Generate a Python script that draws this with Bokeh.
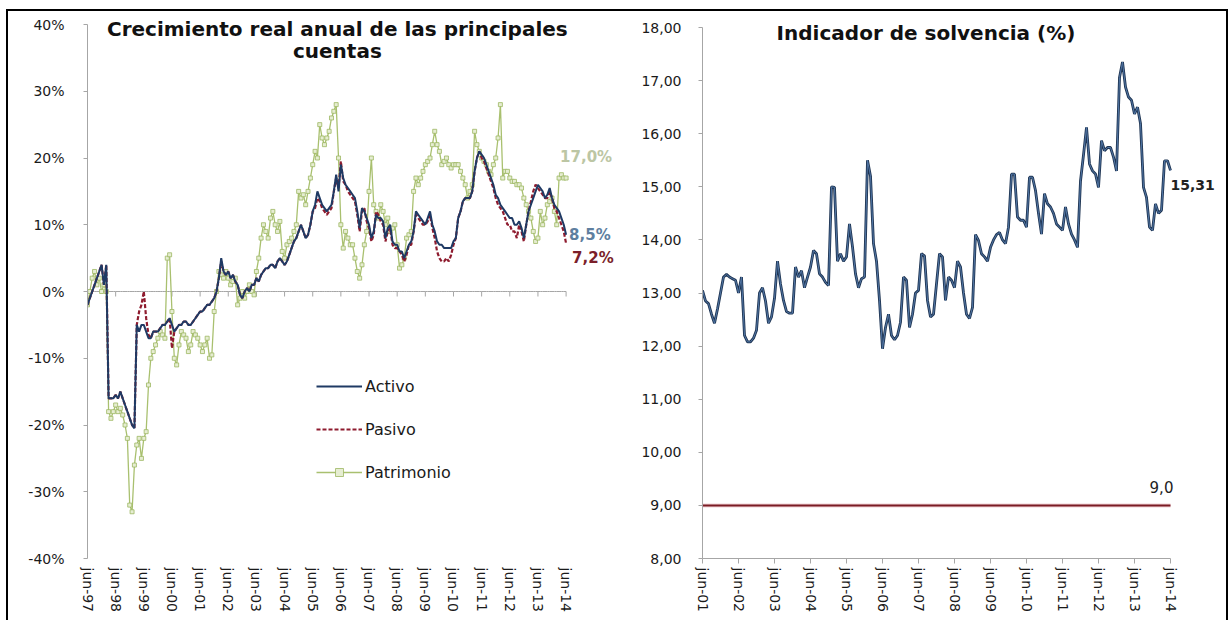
from bokeh.plotting import figure
from bokeh.layouts import row
from bokeh.models import Range1d, FixedTicker, Label, Legend, LegendItem
from bokeh.embed import file_html
from bokeh.resources import INLINE

# ---------------- data: left chart (monthly, jun-97 .. jun-14, % real annual growth)
tick_left = ["jun-97", "jun-98", "jun-99", "jun-00", "jun-01", "jun-02", "jun-03", "jun-04",
             "jun-05", "jun-06", "jun-07", "jun-08", "jun-09", "jun-10", "jun-11", "jun-12",
             "jun-13", "jun-14"]
pct_ticks = [-40, -30, -20, -10, 0, 10, 20, 30, 40]
pct_labels = ["-40%", "-30%", "-20%", "-10%", "0%", "10%", "20%", "30%", "40%"]

activo = [
    -2, -1, 0, 1, 2, 3, 4, 1, 4, -16, -16, -16,
    -15.5, -16, -15, -16, -17, -18, -19, -20, -20.5, -5, -6, -5,
    -5, -6, -7, -7, -6, -6, -6, -5.5, -5, -5, -4.5, -4,
    -5, -6, -5.5, -5, -5, -4.5, -4.5, -5, -5, -4.5, -4, -3.5,
    -3, -3, -2.5, -2, -2, -1.5, -1, 0, 2, 5, 3, 2.5,
    3, 2, 2.5, 1.5, 1, -0.5, -1, 0, 0.5, 0, 1, 1,
    2, 1.5, 2.5, 3, 3.5, 3.5, 4, 4, 3.5, 4.5, 5, 4.5,
    4, 4.5, 5.5, 6.5, 7.5, 8, 9, 10, 9, 8, 8.5, 10,
    12, 13, 15, 14, 13, 12.5, 12, 12.5, 13, 15, 17.5, 15,
    19, 17, 16, 15.5, 15, 14.5, 14, 12, 9.5, 12.5, 12, 11,
    10, 8, 9, 11.5, 11, 11, 10.5, 8, 9.5, 10, 7.5, 7,
    7, 6, 6, 5, 6, 7, 7.5, 9, 12, 11.5, 11, 10.5,
    10, 11, 12, 10, 9, 7.5, 7, 7, 6.5, 6.5, 6.5, 6.5,
    7.5, 8, 11, 12, 13.5, 14, 14, 14, 15, 18, 20, 21,
    20.5, 20, 19, 18, 17, 16, 14.5, 14, 13, 12.5, 12, 11.5,
    11, 11, 10, 10, 10.5, 9.5, 8, 10, 12, 13, 14, 15,
    16, 15.5, 15, 14, 14.5, 15.5, 14, 13, 12.5, 12, 11, 10, 8.5,
]
pasivo = [
    -2, -1, 0, 1, 2, 3, 4, 1, 4, -16, -16, -16,
    -15.5, -16, -15, -16, -17, -18, -19, -20, -20.5, -5, -3, -2,
    0, -4, -6.5, -7, -6, -6, -6, -5.5, -5, -5, -4.5, -4,
    -8.5, -6, -5.5, -5, -5, -4.5, -4.5, -5, -5, -4.5, -4, -3.5,
    -3, -3, -2.5, -2, -2, -1.5, -1, 0, 2, 4.5, 3, 2.5,
    3, 2, 2.5, 1.5, 1, -0.5, -1, 0, 0.5, 0, 1, 1,
    2, 1.5, 2.5, 3, 3.5, 3.5, 4, 4, 3.5, 4.5, 5, 4.5,
    4, 4.5, 5.5, 6.5, 7.5, 8, 9, 10, 9, 8, 8.5, 10,
    12, 12.5, 14, 13.5, 12.5, 12, 11.5, 12, 12.5, 15, 17, 15.5,
    19.5, 16.5, 16, 15, 14.5, 14, 13.5, 11.5, 9, 12, 12.5, 10.5,
    9.5, 7.5, 8.5, 12, 11.5, 10.5, 10, 7.5, 9, 9.5, 7, 6.5,
    6.5, 6, 5.5, 4.5, 5.5, 7, 7, 9, 11.5, 11, 10.5, 10,
    10, 10.5, 11.5, 9.5, 8, 6, 5, 4.5, 4.5, 5, 4.5, 5.5,
    7, 8, 11, 12, 13.5, 14, 14, 14, 15, 18, 20, 21,
    20, 19.5, 18.5, 17.5, 16.5, 15.5, 14, 13, 12.5, 12, 11, 10,
    10, 9, 9, 8, 10, 9, 7.5, 10, 12, 13.5, 15, 16,
    15.5, 15, 14.5, 14, 14, 15, 14, 12.5, 12, 11, 10, 9, 7.2,
]
patrimonio = [
    -2, 0, 2, 3, 1, 2, 0, 1, 0, -18, -19, -18,
    -17, -18, -17.5, -18.5, -20, -22, -32, -33, -26, -23, -22, -25,
    -22, -21, -14, -10, -9, -8, -7, -6, -6.5, -7, 5, 5.5,
    -3, -10, -11, -8, -6, -6.5, -7, -9, -8, -6, -6.5, -7,
    -8, -9, -8, -7, -10, -9.5, -3, 0, 3, 2.5, 2, 3,
    2, 1, 1.5, 2, -2, -1, 0, -1, 0, 1, 0, -0.5,
    3, 5, 8, 10, 9, 8, 11, 12, 10, 9, 10.5, 6,
    5, 7, 7.5, 8, 9, 10, 15, 14, 14.5, 13, 15, 17,
    19, 21, 20, 25, 23, 22, 23, 24, 26, 27, 28, 20,
    10, 6.5, 9, 8, 7, 7, 5, 3, 2, 4, 7, 9,
    15, 20, 13, 12, 11, 13, 12, 10, 11, 9, 9.5, 10,
    7, 3.5, 4, 5, 8, 8.5, 9, 15, 17, 16, 17, 18,
    19, 19.5, 20, 22, 24, 22, 21, 19, 19.5, 20, 19, 18.5,
    19, 19, 19, 18, 17, 16, 14, 15, 16, 24, 22, 21,
    20, 19.5, 19, 18, 17.5, 19, 20, 23, 28, 17, 18, 18,
    17, 16.5, 16.5, 16, 16, 15.5, 14, 13, 12, 11, 9, 7.5,
    8, 12, 10, 11, 13, 13.5, 14, 12, 10, 17, 17.5, 17, 17,
]

# ---------------- data: right chart (monthly, jun-01 .. jun-14)
tick_right = ["jun-01", "jun-02", "jun-03", "jun-04", "jun-05", "jun-06", "jun-07",
              "jun-08", "jun-09", "jun-10", "jun-11", "jun-12", "jun-13", "jun-14"]
solv_ticks = [8, 9, 10, 11, 12, 13, 14, 15, 16, 17, 18]
solv_labels = ["8,00", "9,00", "10,00", "11,00", "12,00", "13,00", "14,00", "15,00",
               "16,00", "17,00", "18,00"]
solvencia = [
    13.05, 12.85, 12.8, 12.6, 12.43, 12.7, 13.0, 13.3, 13.35, 13.3, 13.27, 13.24,
    13.0, 13.3, 12.2, 12.08, 12.08, 12.15, 12.3, 13.0, 13.1, 12.85, 12.43, 12.55,
    12.9, 13.6, 13.17, 12.86, 12.65, 12.62, 12.62, 13.49, 13.3, 13.42, 13.1, 13.3,
    13.49, 13.8, 13.74, 13.36, 13.3, 13.2, 13.14, 15.0, 14.99, 13.6, 13.74, 13.6,
    13.68, 14.3, 13.87, 13.36, 13.1, 13.27, 13.3, 15.5, 15.2, 13.93, 13.6, 12.86,
    11.95, 12.35, 12.6, 12.2, 12.12, 12.2, 12.45, 13.3, 13.24, 12.35, 12.6, 13.0,
    13.05, 13.74, 13.7, 12.86, 12.55, 12.6, 13.17, 13.74, 13.68, 12.86, 13.3, 13.24,
    13.1, 13.6, 13.49, 13.0, 12.6, 12.52, 12.73, 14.1, 13.99, 13.74, 13.68, 13.6,
    13.86, 14.0, 14.1, 14.14, 14.0, 13.93, 14.24, 15.24, 15.24, 14.43, 14.37, 14.37,
    14.24, 15.18, 15.18, 14.93, 14.5, 14.11, 14.87, 14.68, 14.62, 14.5, 14.3, 14.24,
    14.18, 14.62, 14.3, 14.11, 14.0, 13.86, 15.11, 15.6, 16.12, 15.43, 15.3, 15.24,
    14.99, 15.87, 15.68, 15.74, 15.74, 15.56, 15.3, 17.06, 17.35, 16.88, 16.69, 16.63,
    16.37, 16.5, 16.19, 14.99, 14.8, 14.24, 14.18, 14.68, 14.5, 14.56, 15.49, 15.49,
    15.31,
]
minimo = 9.0

FONT = "DejaVu Sans"
AXIS_GRAY = "#A6A6A6"
TXT = "#1a1a1a"
FIG_H = 611


def style_axes(p):
    p.outline_line_color = None
    p.grid.visible = False
    p.background_fill_color = "white"
    p.border_fill_color = "white"
    for ax in p.axis:
        ax.major_label_text_font = FONT
        ax.major_label_text_font_size = "14px"
        ax.major_label_text_color = TXT
        ax.minor_tick_line_color = None
        ax.major_tick_in = 0


# ================= LEFT CHART =================
x1 = list(range(len(activo)))
p1 = figure(width=620, height=FIG_H, output_backend="svg", toolbar_location=None,
            x_range=Range1d(0, 230.6), y_range=Range1d(-40, 41.5),
            min_border_left=79, min_border_right=0, min_border_top=3, min_border_bottom=64)
style_axes(p1)

p1.yaxis.ticker = FixedTicker(ticks=pct_ticks)
p1.yaxis.major_label_overrides = {t: l for t, l in zip(pct_ticks, pct_labels)}
p1.yaxis.bounds = (pct_ticks[0], pct_ticks[-1])
p1.yaxis.axis_line_color = AXIS_GRAY
p1.yaxis.major_tick_line_color = AXIS_GRAY
p1.yaxis.major_tick_out = 4
p1.yaxis.major_label_standoff = 19

xt1 = [12 * i for i in range(len(tick_left))]
p1.xaxis.ticker = FixedTicker(ticks=xt1)
p1.xaxis.major_label_overrides = {t: l for t, l in zip(xt1, tick_left)}
p1.xaxis.axis_line_color = None
p1.xaxis.major_tick_line_color = None
p1.xaxis.major_tick_out = 0
p1.xaxis.major_label_orientation = "vertical"
p1.xaxis.major_label_standoff = 9

# category axis crossing at 0 %
p1.line(x1, [0] * len(x1), line_color=AXIS_GRAY, line_width=1)
p1.segment(x0=xt1, y0=[0] * len(xt1), x1=xt1, y1=[-0.75] * len(xt1),
           line_color=AXIS_GRAY, line_width=1)

r_pat = p1.line(x1, patrimonio, line_color="#A9C06F", line_width=1.3)
r_pat_m = p1.scatter(x1, patrimonio, marker="square", size=4, line_color="#9DB762",
                     fill_color="#E6EDD2", line_width=0.8)
r_pas = p1.line(x1, pasivo, line_color="#8E1B2E", line_width=2.2, line_dash="4 2")
r_act = p1.line(x1, activo, line_color="#1F3A64", line_width=2.0)

legend = Legend(items=[LegendItem(label="Activo", renderers=[r_act]),
                       LegendItem(label="Pasivo", renderers=[r_pas]),
                       LegendItem(label="Patrimonio", renderers=[r_pat, r_pat_m])],
                location=(229, 76), orientation="vertical")
legend.background_fill_alpha = 0
legend.border_line_color = None
legend.glyph_width = 46
legend.glyph_height = 20
legend.label_height = 20
legend.label_standoff = 3
legend.spacing = 23
legend.padding = 0
legend.margin = 0
legend.label_text_font = FONT
legend.label_text_font_size = "16px"
legend.label_text_color = TXT
p1.add_layout(legend)

p1.add_layout(Label(x=106.5, y=39.36, text="Crecimiento real anual de las principales",
                    text_align="center", text_baseline="middle", text_font=FONT,
                    text_font_size="20px", text_font_style="bold", text_color="#111111"))
p1.add_layout(Label(x=106.5, y=36.0, text="cuentas",
                    text_align="center", text_baseline="middle", text_font=FONT,
                    text_font_size="20px", text_font_style="bold", text_color="#111111"))


def fmt_pct(v):
    return ("%.1f%%" % v).replace(".", ",")


p1.add_layout(Label(x=x1[-1], y=patrimonio[-1], text=fmt_pct(patrimonio[-1]),
                    x_offset=-6, y_offset=21, text_align="left", text_baseline="middle",
                    text_font=FONT, text_font_size="15px", text_font_style="bold",
                    text_color="#BCC6A4"))
p1.add_layout(Label(x=x1[-1], y=activo[-1], text=fmt_pct(activo[-1]),
                    x_offset=3, y_offset=0, text_align="left", text_baseline="middle",
                    text_font=FONT, text_font_size="15px", text_font_style="bold",
                    text_color="#5F7FA0"))
p1.add_layout(Label(x=x1[-1], y=pasivo[-1], text=fmt_pct(pasivo[-1]),
                    x_offset=6, y_offset=-15, text_align="left", text_baseline="middle",
                    text_font=FONT, text_font_size="15px", text_font_style="bold",
                    text_color="#7B1F2A"))

# ================= RIGHT CHART =================
x2 = list(range(len(solvencia)))
p2 = figure(width=598, height=FIG_H, output_backend="svg", toolbar_location=None,
            x_range=Range1d(0, 172.0), y_range=Range1d(8, 18.245),
            min_border_left=74, min_border_right=8, min_border_top=3, min_border_bottom=64)
style_axes(p2)

p2.yaxis.ticker = FixedTicker(ticks=solv_ticks)
p2.yaxis.major_label_overrides = {t: l for t, l in zip(solv_ticks, solv_labels)}
p2.yaxis.bounds = (solv_ticks[0], solv_ticks[-1])
p2.yaxis.axis_line_color = AXIS_GRAY
p2.yaxis.major_tick_line_color = AXIS_GRAY
p2.yaxis.major_tick_out = 4
p2.yaxis.major_label_standoff = 17

xt2 = [12 * i for i in range(len(tick_right))]
p2.xaxis.ticker = FixedTicker(ticks=xt2)
p2.xaxis.major_label_overrides = {t: l for t, l in zip(xt2, tick_right)}
p2.xaxis.bounds = (x2[0], x2[-1])
p2.xaxis.axis_line_color = AXIS_GRAY
p2.xaxis.major_tick_line_color = AXIS_GRAY
p2.xaxis.major_tick_out = 5
p2.xaxis.major_label_orientation = "vertical"
p2.xaxis.major_label_standoff = 4

lim_x = [x2[0], x2[-1]]
lim_y = [minimo, minimo]
p2.line(lim_x, lim_y, line_color="#F2D3D7", line_width=4)
p2.line(lim_x, lim_y, line_color="#7A1C24", line_width=2)

p2.line(x2, solvencia, line_color="#1F3553", line_width=2.8)
p2.line(x2, solvencia, line_color="#5277A6", line_width=1.0)

p2.add_layout(Label(x=74.5, y=17.89, text="Indicador de solvencia (%)",
                    text_align="center", text_baseline="middle", text_font=FONT,
                    text_font_size="20px", text_font_style="bold", text_color="#111111"))
p2.add_layout(Label(x=x2[-1], y=solvencia[-1], text=("%.2f" % solvencia[-1]).replace(".", ","),
                    x_offset=0, y_offset=-15, text_align="left", text_baseline="middle",
                    text_font=FONT, text_font_size="14px", text_font_style="bold",
                    text_color="#222222"))
p2.add_layout(Label(x=x2[-1], y=minimo, text=("%.1f" % minimo).replace(".", ","),
                    x_offset=-9, y_offset=18, text_align="center", text_baseline="middle",
                    text_font=FONT, text_font_size="15px", text_color="#222222"))

layout = row(p1, p2, margin=(11, 0, 0, 8),
             styles={"box-shadow": "-2px -2px 0 0 #000, 2px -2px 0 0 #000"})

open("out.html", "w").write(file_html(layout, INLINE))
